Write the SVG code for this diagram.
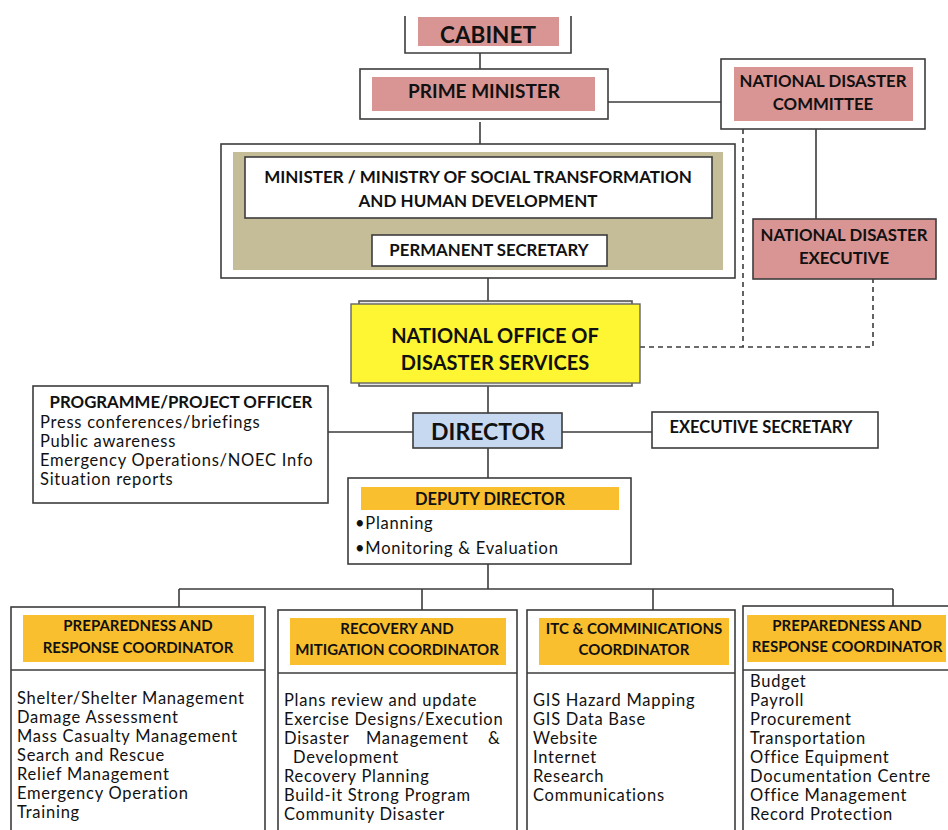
<svg xmlns="http://www.w3.org/2000/svg" width="948" height="830" viewBox="0 0 948 830">
<style>
.bx{fill:#fff;stroke:#3c3c3c;stroke-width:1.6}
.pk{fill:#d99594}
.og{fill:#f9bf2f}
.h{font-family:Lato,"Liberation Sans",sans-serif;font-weight:700;fill:#111;text-anchor:middle}
.t{font-family:Lato,"Liberation Sans",sans-serif;font-size:16.5px;letter-spacing:0.75px;fill:#111}
.ln{fill:none;stroke:#3c3c3c;stroke-width:1.6}
.dash{fill:none;stroke:#3c3c3c;stroke-width:1.6;stroke-dasharray:5 4}
</style>
<rect width="948" height="830" fill="#fff"/>
<g id="connectors">
<path class="ln" d="M480 53V69M608 102H721M480 122V144M488 218V235M488 278V301M816 129V219M488 386V413M328 432H413M562 432H652M488 448V478M488 564V589M179 589H893M179 589V607M422 589V610M653 589V610M893 589V606"/>
<path class="dash" d="M743 129V347M640 347H873V279"/>
</g>
<g id="cabinet">
<rect class="pk" x="418" y="17" width="141" height="29"/>
<path class="ln" d="M405 16V53H571V16"/>
<text class="h" x="488" y="43" font-size="22.5">CABINET</text>
</g>
<g id="prime-minister">
<rect class="bx" x="360" y="69" width="248" height="50"/>
<rect class="pk" x="372" y="77" width="223" height="34"/>
<text class="h" x="484" y="97.5" font-size="19">PRIME MINISTER</text>
</g>
<g id="national-disaster-committee">
<rect class="bx" x="721" y="59" width="204" height="70"/>
<rect class="pk" x="734" y="67" width="179" height="54"/>
<text class="h" x="823" y="87" font-size="16.8">NATIONAL DISASTER</text>
<text class="h" x="823" y="110" font-size="16.8">COMMITTEE</text>
</g>
<g id="ministry">
<rect class="bx" x="221" y="144" width="514" height="134"/>
<rect x="233" y="152" width="490" height="118" fill="#c4bd97"/>
<rect class="bx" x="245" y="157" width="467" height="61"/>
<text class="h" x="478" y="183" font-size="17">MINISTER / MINISTRY OF SOCIAL TRANSFORMATION</text>
<text class="h" x="478" y="207" font-size="17">AND HUMAN DEVELOPMENT</text>
</g>
<g id="permanent-secretary">
<rect class="bx" x="372" y="235" width="235" height="31"/>
<text class="h" x="489" y="256" font-size="16.8">PERMANENT SECRETARY</text>
</g>
<g id="national-disaster-executive">
<rect x="753" y="219" width="183" height="60" fill="#d99594" stroke="#3c3c3c" stroke-width="1.6"/>
<text class="h" x="844" y="241" font-size="16.8">NATIONAL DISASTER</text>
<text class="h" x="844" y="264" font-size="16.8">EXECUTIVE</text>
</g>
<g id="nods">
<rect x="359" y="301" width="273" height="85" fill="#e6e6e6" stroke="#555" stroke-width="1.6"/>
<rect x="351" y="304" width="289" height="79" fill="#fff633" stroke="#666" stroke-width="1.4"/>
<text class="h" x="495" y="343" font-size="20">NATIONAL OFFICE OF</text>
<text class="h" x="495" y="370" font-size="20">DISASTER SERVICES</text>
</g>
<g id="programme-officer">
<rect class="bx" x="33" y="386" width="295" height="117"/>
<text class="h" x="181" y="408" font-size="16.8">PROGRAMME/PROJECT OFFICER</text>
<text class="t" x="40" y="428">Press conferences/briefings</text>
<text class="t" x="40" y="447">Public awareness</text>
<text class="t" x="40" y="466">Emergency Operations/NOEC Info</text>
<text class="t" x="40" y="485">Situation reports</text>
</g>
<g id="director">
<rect x="413" y="413" width="149" height="35" fill="#c6d9f0" stroke="#3c3c3c" stroke-width="1.6"/>
<text class="h" x="488" y="439.5" font-size="23">DIRECTOR</text>
</g>
<g id="executive-secretary">
<rect class="bx" x="652" y="412" width="226" height="36"/>
<text class="h" x="761" y="433" font-size="16.5">EXECUTIVE SECRETARY</text>
</g>
<g id="deputy-director">
<rect class="bx" x="348" y="478" width="283" height="86"/>
<rect class="og" x="361" y="487" width="258" height="23"/>
<text class="h" x="490" y="504.5" font-size="16.5">DEPUTY DIRECTOR</text>
<text class="t" x="355" y="529">•Planning</text>
<text class="t" x="355" y="554">•Monitoring &amp; Evaluation</text>
</g>
<g id="preparedness-coordinator-1">
<rect class="bx" x="11" y="607" width="254" height="230"/>
<path class="ln" d="M11 670H265"/>
<rect class="og" x="23" y="615" width="231" height="47"/>
<text class="h" x="138" y="631" font-size="15">PREPAREDNESS AND</text>
<text class="h" x="138" y="653" font-size="15">RESPONSE COORDINATOR</text>
<text class="t" x="17" y="704">Shelter/Shelter Management</text>
<text class="t" x="17" y="723">Damage Assessment</text>
<text class="t" x="17" y="742">Mass Casualty Management</text>
<text class="t" x="17" y="761">Search and Rescue</text>
<text class="t" x="17" y="780">Relief Management</text>
<text class="t" x="17" y="799">Emergency Operation</text>
<text class="t" x="17" y="818">Training</text>
</g>
<g id="recovery-coordinator">
<rect class="bx" x="278" y="610" width="239" height="227"/>
<path class="ln" d="M278 673H517"/>
<rect class="og" x="290" y="618" width="216" height="47"/>
<text class="h" x="397" y="634" font-size="15">RECOVERY AND</text>
<text class="h" x="397" y="655" font-size="15">MITIGATION COORDINATOR</text>
<text class="t" x="284" y="706">Plans review and update</text>
<text class="t" x="284" y="725">Exercise Designs/Execution</text>
<text class="t" x="284" y="744">Disaster</text>
<text class="t" x="366" y="744">Management</text>
<text class="t" x="488" y="744">&amp;</text>
<text class="t" x="293" y="763">Development</text>
<text class="t" x="284" y="782">Recovery Planning</text>
<text class="t" x="284" y="801">Build-it Strong Program</text>
<text class="t" x="284" y="820">Community Disaster</text>
</g>
<g id="itc-coordinator">
<rect class="bx" x="527" y="610" width="208" height="227"/>
<path class="ln" d="M527 673H735"/>
<rect class="og" x="539" y="618" width="190" height="47"/>
<text class="h" x="634" y="634" font-size="15">ITC &amp; COMMINICATIONS</text>
<text class="h" x="634" y="655" font-size="15">COORDINATOR</text>
<text class="t" x="533" y="706">GIS Hazard Mapping</text>
<text class="t" x="533" y="725">GIS Data Base</text>
<text class="t" x="533" y="744">Website</text>
<text class="t" x="533" y="763">Internet</text>
<text class="t" x="533" y="782">Research</text>
<text class="t" x="533" y="801">Communications</text>
</g>
<g id="preparedness-coordinator-2">
<rect class="bx" x="743" y="606" width="210" height="231"/>
<path class="ln" d="M743 670H953"/>
<rect class="og" x="747" y="615" width="199" height="47"/>
<text class="h" x="847" y="631" font-size="15">PREPAREDNESS AND</text>
<text class="h" x="847" y="652" font-size="15">RESPONSE COORDINATOR</text>
<text class="t" x="750" y="687">Budget</text>
<text class="t" x="750" y="706">Payroll</text>
<text class="t" x="750" y="725">Procurement</text>
<text class="t" x="750" y="744">Transportation</text>
<text class="t" x="750" y="763">Office Equipment</text>
<text class="t" x="750" y="782">Documentation Centre</text>
<text class="t" x="750" y="801">Office Management</text>
<text class="t" x="750" y="820">Record Protection</text>
</g>
</svg>
